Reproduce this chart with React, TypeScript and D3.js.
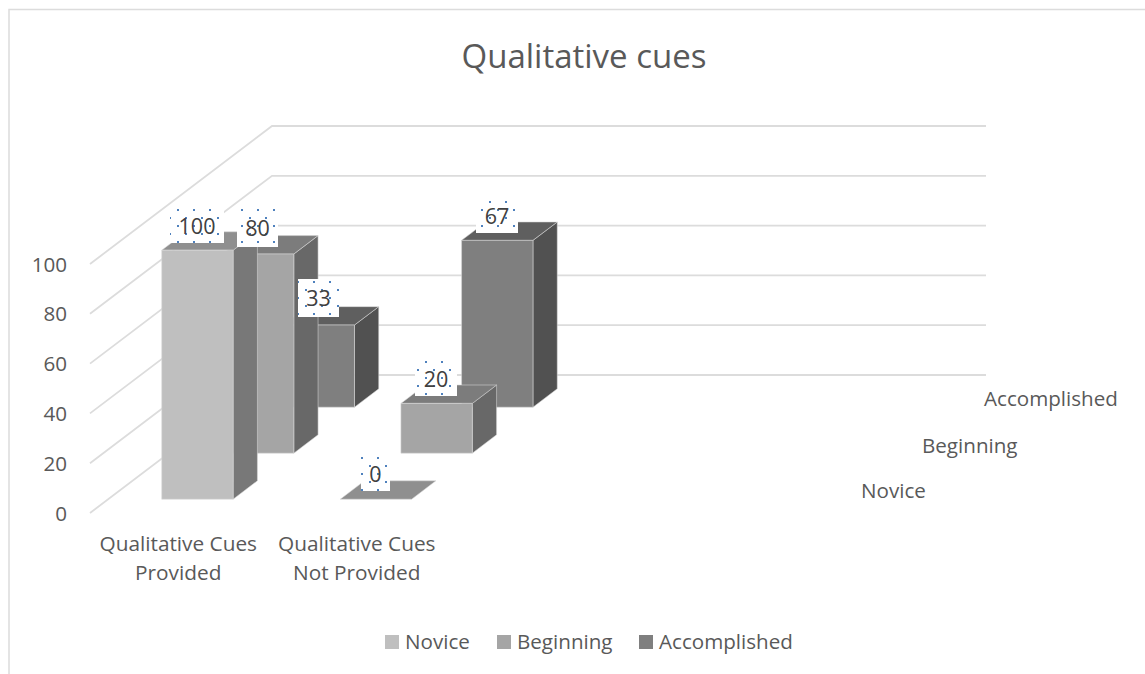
import React from "react";
import * as d3 from "d3";

const title = "Qualitative cues";
const categories = ["Qualitative Cues Provided", "Qualitative Cues Not Provided", "c3", "c4"];
const categoryLabels = [["Qualitative Cues", "Provided"], ["Qualitative Cues", "Not Provided"]];
const seriesNames = ["Novice", "Beginning", "Accomplished"];
const novice = [100, 0];
const beginning = [80, 20];
const accomplished = [33, 67];
const seriesValues = [novice, beginning, accomplished];
const yTicks = [0, 20, 40, 60, 80, 100];
const frontColors = ["#bfbfbf", "#a5a5a5", "#7f7f7f"];
const topColors = ["#8f8f8f", "#7c7c7c", "#5f5f5f"];
const sideColors = ["#787878", "#686868", "#515151"];

const FONT = "'Open Sans', sans-serif";
const TEXT = "#595959";
const GRID = "#dcdcdc";

// projection
const x0 = 90, floorY = 513, plotW = 714;
const depthX = 182, depthY = 138;
const y = d3.scaleLinear().domain([0, 100]).range([0, 249]);
const xBand = d3.scaleBand<string>().domain(categories).range([x0, x0 + plotW]).paddingInner(0.6).paddingOuter(0.3);
const depth = d3.scaleBand<string>().domain(seriesNames).range([0, 1]).paddingInner(0.6).paddingOuter(0.3);
const pt = (x: number, d: number, v: number): [number, number] => [x + d * depthX, floorY - d * depthY - y(v)];
const poly = (ps: [number, number][]) => ps.map((p) => p.join(",")).join(" ");

const labelBoxes = [
  { s: 0, c: 0, x: 170, y: 208, w: 54, h: 35 },
  { s: 1, c: 0, x: 237, y: 208, w: 41, h: 39 },
  { s: 2, c: 0, x: 298, y: 279, w: 41, h: 38 },
  { s: 0, c: 1, x: 361, y: 457, w: 29, h: 34 },
  { s: 1, c: 1, x: 415, y: 361, w: 42, h: 35 },
  { s: 2, c: 1, x: 476, y: 198, w: 42, h: 35 },
];

const depthLabels = [
  { t: "Novice", x: 861, y: 491 },
  { t: "Beginning", x: 922, y: 446 },
  { t: "Accomplished", x: 984, y: 399 },
];

function Bar({ s, c }: { s: number; c: number }) {
  const v = seriesValues[s][c];
  const name = seriesNames[s];
  const xl = xBand(categories[c])!;
  const xr = xl + xBand.bandwidth();
  const d1 = depth(name)!;
  const d2 = d1 + depth.bandwidth();
  return (
    <g stroke="#d9d9d9" strokeOpacity={0.55} strokeWidth={1} strokeLinejoin="round">
      {v > 0 && <polygon points={poly([pt(xr, d1, 0), pt(xr, d2, 0), pt(xr, d2, v), pt(xr, d1, v)])} fill={sideColors[s]} />}
      <polygon points={poly([pt(xl, d1, v), pt(xr, d1, v), pt(xr, d2, v), pt(xl, d2, v)])} fill={topColors[s]} />
      {v > 0 && <polygon points={poly([pt(xl, d1, 0), pt(xr, d1, 0), pt(xr, d1, v), pt(xl, d1, v)])} fill={frontColors[s]} />}
    </g>
  );
}

export default function App() {
  const backX = x0 + depthX;
  return (
    <svg width={1145} height={674} style={{ position: "absolute", left: 0, top: 0, background: "#fff" }} fontFamily={FONT}>
      <defs>
        <pattern id="handles" patternUnits="userSpaceOnUse" width={16} height={16}>
          <rect x={1} y={1} width={2} height={2} fill="#4f81bd" />
          <rect x={9} y={9} width={2} height={2} fill="#4f81bd" />
        </pattern>
      </defs>
      <path d="M9 674V9.5H1145" fill="none" stroke={GRID} strokeWidth={1.5} />
      <text x={584} y={68} textAnchor="middle" fontSize={33} fill={TEXT}>{title}</text>

      {yTicks.map((t) => {
        const yf = floorY - y(t);
        return (
          <g key={t}>
            <polyline points={poly([[x0, yf], [backX, yf - depthY], [x0 + plotW + depthX, yf - depthY]])} fill="none" stroke={GRID} strokeWidth={1.8} />
            <text x={67} y={yf + 7.5} textAnchor="end" fontSize={20.6} fill={TEXT}>{t}</text>
          </g>
        );
      })}

      {[2, 1, 0].map((s) => [0, 1].map((c) => <Bar key={`${s}-${c}`} s={s} c={c} />))}

      {labelBoxes.map((b) => (
        <g key={`${b.s}-${b.c}`}>
          <rect x={b.x} y={b.y} width={b.w} height={b.h} fill="#fff" />
          <rect x={b.x} y={b.y} width={b.w} height={b.h} fill="url(#handles)" />
          <text x={b.x + b.w / 2} y={b.y + b.h / 2 + 8} textAnchor="middle" fontSize={21.5} fill="#404040">{seriesValues[b.s][b.c]}</text>
        </g>
      ))}

      {categoryLabels.map((lines, i) => {
        const cx = xBand(categories[i])! + xBand.bandwidth() / 2 - 1;
        return lines.map((line, j) => (
          <text key={`${i}-${j}`} x={cx} y={551 + j * 29} textAnchor="middle" fontSize={20.8} fill={TEXT}>{line}</text>
        ));
      })}

      {depthLabels.map((d) => (
        <text key={d.t} x={d.x} y={d.y + 7} fontSize={20.6} fill={TEXT}>{d.t}</text>
      ))}

      {seriesNames.map((n, i) => {
        const lx = [385, 497, 639][i];
        return (
          <g key={n}>
            <rect x={lx} y={635} width={14} height={14} fill={frontColors[i]} />
            <text x={lx + 20} y={649} fontSize={20.6} fill={TEXT}>{n}</text>
          </g>
        );
      })}
    </svg>
  );
}
